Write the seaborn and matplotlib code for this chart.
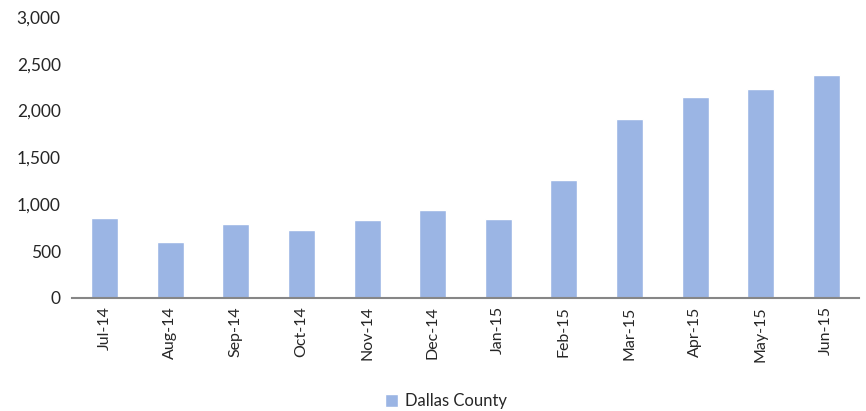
import pandas as pd
import matplotlib.pyplot as plt
import seaborn as sns

months = ['Jul-14', 'Aug-14', 'Sep-14', 'Oct-14', 'Nov-14', 'Dec-14',
          'Jan-15', 'Feb-15', 'Mar-15', 'Apr-15', 'May-15', 'Jun-15']
values = [850, 600, 790, 730, 830, 935, 840, 1255, 1910, 2140, 2235, 2380]
series = 'Dallas County'

df = pd.DataFrame({'month': months, 'value': values, 'series': series})

sns.set_style('white')
plt.rcParams['font.family'] = ['Lato', 'DejaVu Sans']

fig = plt.figure(figsize=(8.66, 4.11), dpi=100)
ax = fig.add_axes([0.083, 0.275, 0.909, 0.684])

sns.barplot(data=df, x='month', y='value', hue='series', palette=['#9bb5e4'],
            width=0.41, saturation=1, ax=ax, legend=True)

ax.set_ylim(0, 3000)
ax.set_yticks(range(0, 3001, 500))
ax.set_yticklabels([f'{v:,}' for v in range(0, 3001, 500)], fontsize=12.5)
ax.set_xlim(-0.5, len(months) - 0.5)
ax.tick_params(axis='x', labelrotation=90, labelsize=11.5, length=0, pad=6)
ax.tick_params(axis='y', length=0, pad=8)
ax.set_xlabel('')
ax.set_ylabel('')
for s in ['top', 'right', 'left']:
    ax.spines[s].set_visible(False)
ax.spines['bottom'].set_color('#868686')
ax.spines['bottom'].set_linewidth(1.5)

ax.legend(loc='lower center', bbox_to_anchor=(0.475, -0.45), frameon=False,
          fontsize=12, handlelength=0.8, handleheight=0.8, handletextpad=0.4)

fig.savefig('out.png', dpi=100)
